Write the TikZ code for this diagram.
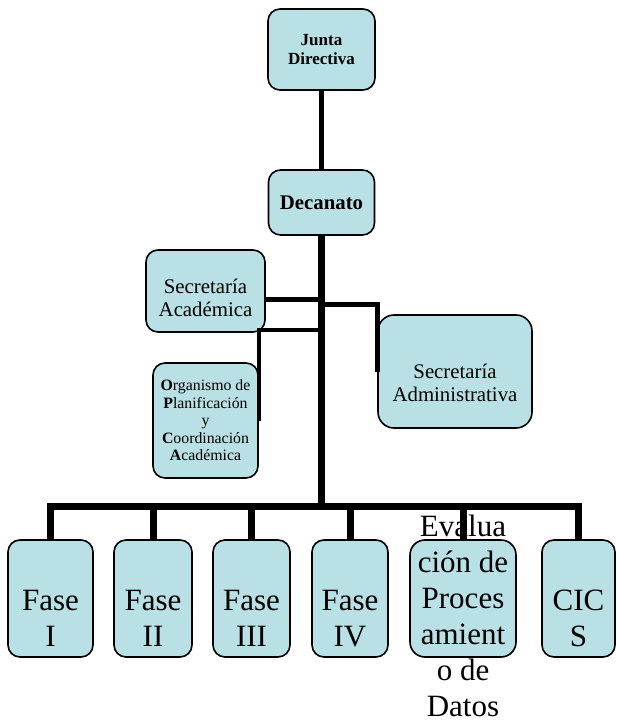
\documentclass[tikz,border=0pt]{standalone}
\usepackage{fontspec}
\setmainfont{Liberation Serif}
\usetikzlibrary{positioning}
\definecolor{boxblue}{RGB}{185,224,228}

\begin{document}
\begin{tikzpicture}[x=1pt, y=-1pt]

    % Define block styles
    \tikzstyle{block} = [rectangle, draw, line width=1.6pt, fill=boxblue,
        text centered, align=center, rounded corners=12pt, inner sep=2pt]
    \tikzstyle{lowblock} = [block, minimum height=117pt]
    \tikzstyle{lowtext} = [align=center, inner sep=0pt, yshift=-20pt,
        font=\fontsize{31}{36}\selectfont]
    \tikzstyle{midtext} = [align=center, inner sep=0pt,
        font=\fontsize{20.8}{23}\selectfont]
    \tikzstyle{link} = [draw, line width=5pt]
    \tikzstyle{trunk} = [draw, line width=7pt]

    \useasboundingbox (0,0) rectangle (616,722);

    % Place nodes
    \node [block, minimum width=107pt, minimum height=81pt,
        font=\bfseries\fontsize{17}{19.5}\selectfont] (junta) at (321.5,49.5)
        {Junta\\Directiva};
    \node [block, minimum width=106pt, minimum height=65pt,
        font=\bfseries\fontsize{20.8}{23}\selectfont] (decanato) at (321.5,202.5)
        {Decanato};
    \node [block, minimum width=119pt, minimum height=82pt,
        label={[midtext, yshift=-7pt]center:Secretaría\\Académica}] (secacad) at (205.5,291) {};
    \node [block, minimum width=154pt, minimum height=113pt, rounded corners=16pt,
        label={[midtext, yshift=-11pt]center:Secretaría\\Administrativa}] (secadm) at (455,371.5) {};
    \node [block, minimum width=105pt, minimum height=115pt,
        font=\fontsize{15.8}{17.5}\selectfont] (organ) at (205.5,420.5)
        {\textbf{O}rganismo de\\\textbf{P}lanificación\\y\\\textbf{C}oordinación\\\textbf{A}cadémica};

    \node [lowblock, minimum width=85pt, label={[lowtext]center:Fase\\I}] (fase1) at (50.5,598.5) {};
    \node [lowblock, minimum width=78pt, label={[lowtext]center:Fase\\II}] (fase2) at (153,598.5) {};
    \node [lowblock, minimum width=77pt, label={[lowtext]center:Fase\\III}] (fase3) at (251.5,598.5) {};
    \node [lowblock, minimum width=76pt, label={[lowtext]center:Fase\\IV}] (fase4) at (350,598.5) {};
    \node [lowblock, minimum width=106pt, rounded corners=15pt,
        label={[lowtext, yshift=3pt]center:Evalua\\ción de\\Proces\\amient\\o de\\Datos}] (eval) at (463,598.5) {};
    \node [lowblock, minimum width=73pt, label={[lowtext]center:CIC\\S}] (cics) at (578.5,598.5) {};

    % Junctions on the trunk
    \coordinate (tA) at (321.5,299);
    \coordinate (tB) at (321.5,304);
    \coordinate (tC) at (321.5,330);
    \coordinate (bus) at (321.5,506);

    % Draw edges
    \path [draw, line width=5.5pt] (junta.south) -- (decanato.north);
    \path [trunk] (decanato.south) -- (bus);
    \path [link] (secacad.east |- tA) -- (tA);
    \path [link] (tB) -| (secadm.west);
    \path [link, line width=4.5pt] (tC) -| (organ.east);
    \path [trunk] (fase1.north) |- (cics.north |- bus) -- (cics.north);
    \foreach \n in {fase2, fase3, fase4, eval}
        \path [trunk] (\n.north) -- (\n.north |- bus);

\end{tikzpicture}
\end{document}
